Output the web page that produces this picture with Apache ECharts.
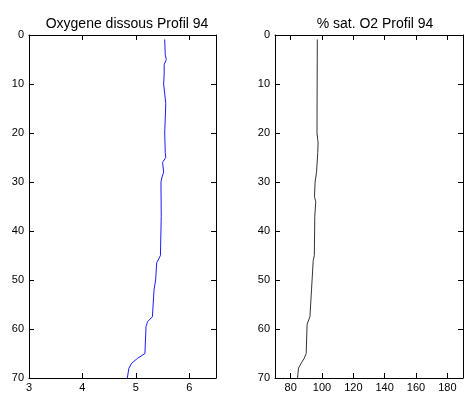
<!DOCTYPE html>
<html>
<head>
<meta charset="utf-8">
<script src="https://cdn.jsdelivr.net/npm/echarts@6/dist/echarts.min.js"></script>
<style>html,body{margin:0;padding:0;background:#fff}#c{width:476px;height:394px}</style>
</head>
<body>
<div id="c"></div>
<script>
// Left profile: dissolved oxygen vs depth
const depthOxy = [0.9, 4, 5, 6, 8, 10, 11, 14, 20, 24, 25, 26, 28, 29, 30, 37, 45, 46.5, 50, 52, 57.5, 58.5, 59.5, 65, 66, 67, 68, 70];
const oxy =      [5.54, 5.55, 5.57, 5.53, 5.53, 5.52, 5.53, 5.56, 5.54, 5.55, 5.56, 5.50, 5.52, 5.49, 5.47, 5.475, 5.46, 5.39, 5.37, 5.34, 5.31, 5.22, 5.19, 5.17, 5.03, 4.92, 4.87, 4.84];
// Right profile: % O2 saturation vs depth
const depthSat = [0.9, 20, 22, 24, 28, 30, 33, 34, 37, 45, 46, 52, 57.5, 59, 65, 66, 67, 68, 70];
const sat =      [97.0, 96.8, 97.5, 97.3, 96.5, 95.6, 95.2, 96.0, 95.4, 95.1, 94.4, 93.3, 92.3, 90.5, 89.9, 88.6, 86.7, 85.0, 84.4];
// Axis ticks
const oxyTicks = [3, 4, 5, 6];
const satTicks = [80, 100, 120, 140, 160, 180];
const titles = ["Oxygene dissous Profil 94", "% sat. O2 Profil 94"];

const FONT = "'Liberation Sans', Arial, sans-serif";
const lineStyle = {color: '#000', width: 1};
const txt = {color: '#000', fontSize: 11, fontFamily: FONT};
const ttl = {color: '#000', fontSize: 14, fontFamily: FONT, fontWeight: 'normal'};

function xAx(grid, min, max, ticks, pos, labels) {
  return {
    type: 'value', gridIndex: grid, position: pos, min: min, max: max,
    axisLine: {show: true, onZero: false, lineStyle: lineStyle},
    axisTick: {show: true, inside: true, length: 5, customValues: ticks, lineStyle: lineStyle},
    axisLabel: {show: labels, customValues: ticks, margin: 4, ...txt},
    splitLine: {show: false}
  };
}
function yAx(grid, pos, labels) {
  return {
    type: 'value', gridIndex: grid, position: pos, min: 0, max: 70, interval: 10, inverse: true,
    axisLine: {show: true, onZero: false, lineStyle: lineStyle},
    axisTick: {show: true, inside: true, length: 5, lineStyle: lineStyle},
    axisLabel: {show: labels, margin: 5, ...txt},
    splitLine: {show: false}
  };
}

const chart = echarts.init(document.getElementById('c'));
chart.setOption({
  animation: false,
  backgroundColor: '#fff',
  title: [
    {text: titles[0], left: 122, top: 12, textAlign: 'center', textStyle: ttl},
    {text: titles[1], left: 370, top: 12, textAlign: 'center', textStyle: ttl}
  ],
  grid: [
    {left: 29, right: 260, top: 35, bottom: 16},
    {left: 275, right: 13, top: 35, bottom: 16}
  ],
  xAxis: [
    xAx(0, 3, 6.5, oxyTicks, 'bottom', true),
    xAx(0, 3, 6.5, oxyTicks, 'top', false),
    xAx(1, 70, 190, satTicks, 'bottom', true),
    xAx(1, 70, 190, satTicks, 'top', false)
  ],
  yAxis: [
    yAx(0, 'left', true),
    yAx(0, 'right', false),
    yAx(1, 'left', true),
    yAx(1, 'right', false)
  ],
  series: [
    {type: 'line', xAxisIndex: 0, yAxisIndex: 0, showSymbol: false, silent: true,
     data: oxy.map((v, i) => [v, depthOxy[i]]), lineStyle: {color: '#1a1aff', width: 1}},
    {type: 'line', xAxisIndex: 2, yAxisIndex: 2, showSymbol: false, silent: true,
     data: sat.map((v, i) => [v, depthSat[i]]), lineStyle: {color: '#333', width: 1}}
  ]
});
</script>
</body>
</html>
